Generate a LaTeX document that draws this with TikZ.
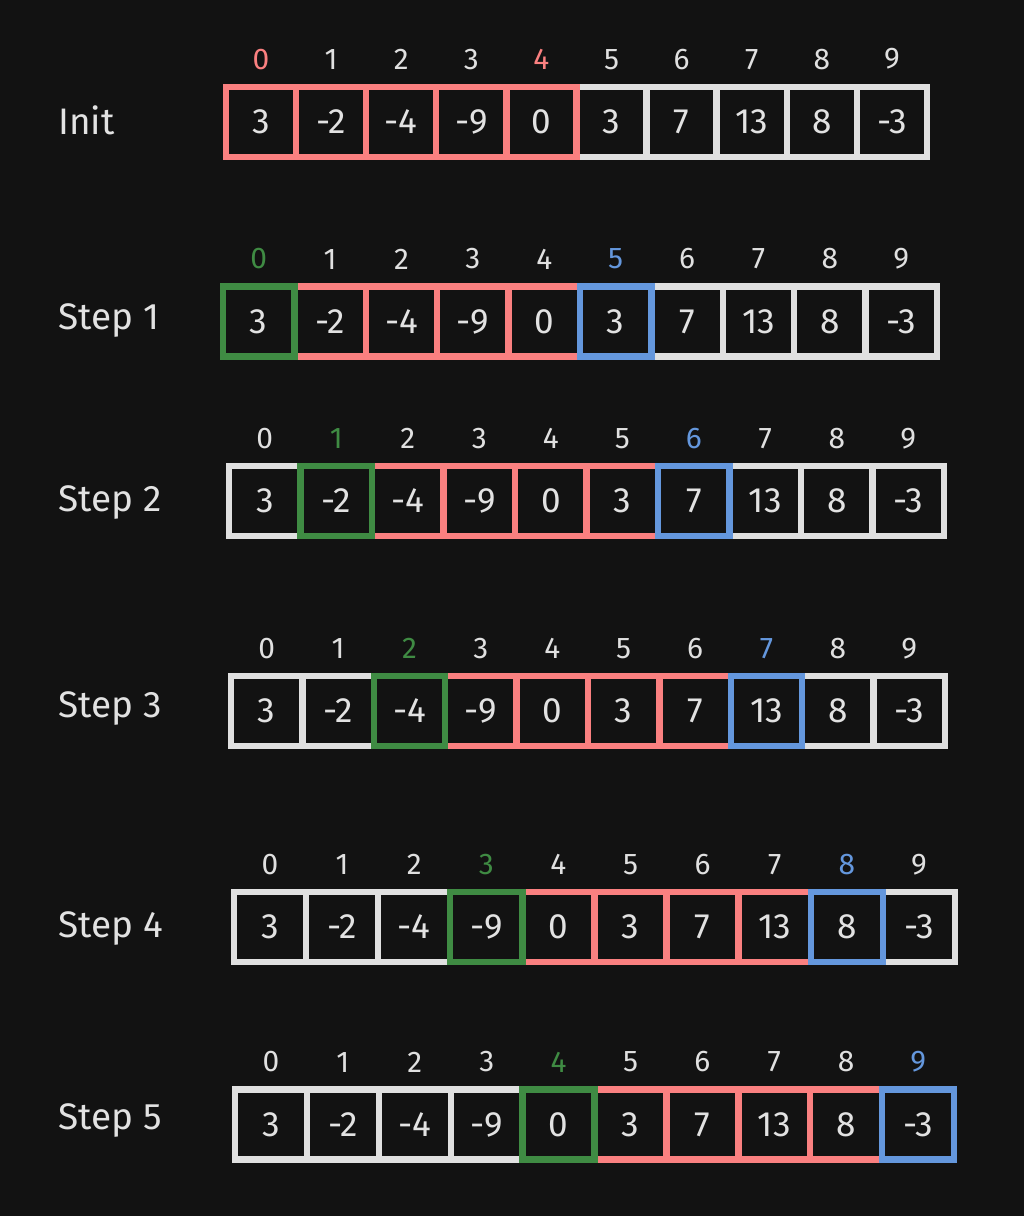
\documentclass[tikz,border=0pt]{standalone}
\usepackage{fontspec}
\setmainfont{Fira Sans}
\usetikzlibrary{positioning}

\definecolor{bgdark}{HTML}{121212}
\definecolor{grp0}{HTML}{E0E0E0}
\definecolor{grp1}{HTML}{3F8B43}
\definecolor{grp2}{HTML}{FA8080}
\definecolor{grp3}{HTML}{6497DD}
\definecolor{txtlight}{HTML}{E2E2E2}

\tikzset{
  cell/.style={draw, line width=3.6pt, minimum height=1.40cm, inner sep=0pt, outer sep=0pt,
    text=txtlight, font=\fontsize{20}{24}\selectfont},
  idx/.style={inner sep=0pt, font=\fontsize{17}{21}\selectfont},
  rowlabel/.style={anchor=west, inner sep=0pt, text=txtlight, font=\fontsize{21}{25}\selectfont}
}

\begin{document}
\begin{tikzpicture}[x=0.02cm, y=-0.02cm]
  % Background
  \fill[bgdark] (0,0) rectangle (1024,1216);
  \useasboundingbox (0,0) rectangle (1024,1216);
  % Rows: index / label / first cell x / centre y / pitch / label y
  \foreach \ri/\lbl/\xs/\yc/\p/\ly in {0/Init/261/122/70.1/120,
      1/Step 1/258.7/321.5/71.4/320, 2/Step 2/264.8/501/71.5/502,
      3/Step 3/266.7/711/71.4/708, 4/Step 4/270/927/72.1/928,
      5/Step 5/271/1124.5/71.9/1120}
  {
    \node[rowlabel] (lab\ri) at (58,\ly) {\lbl};
    % white first, then red, then green and blue on top
    \foreach \pass in {0,2,1,3} {
      \foreach \v [count=\ci from 0] in {3,-2,-4,-9,0,3,7,13,8,-3} {
        \pgfmathtruncatemacro\g{\ri==0 ? (\ci<5 ? 2 : 0) : (\ci==\ri-1 ? 1 : ((\ci>=\ri && \ci<=\ri+3) ? 2 : (\ci==\ri+4 ? 3 : 0)))}
        \pgfmathtruncatemacro\k{\ri==0 ? ((\ci==0 || \ci==4) ? 2 : 0) : (\ci==\ri-1 ? 1 : (\ci==\ri+4 ? 3 : 0))}
        \ifnum\g=\pass
          \node[cell, draw=grp\g, minimum width=\p*0.02cm] (c\ri-\ci) at (\xs+\ci*\p,\yc) {\v};
          \node[idx, text=grp\k, above=0.34cm of c\ri-\ci] (i\ri-\ci) {\ci};
        \fi
      }
    }
  }
\end{tikzpicture}
\end{document}
